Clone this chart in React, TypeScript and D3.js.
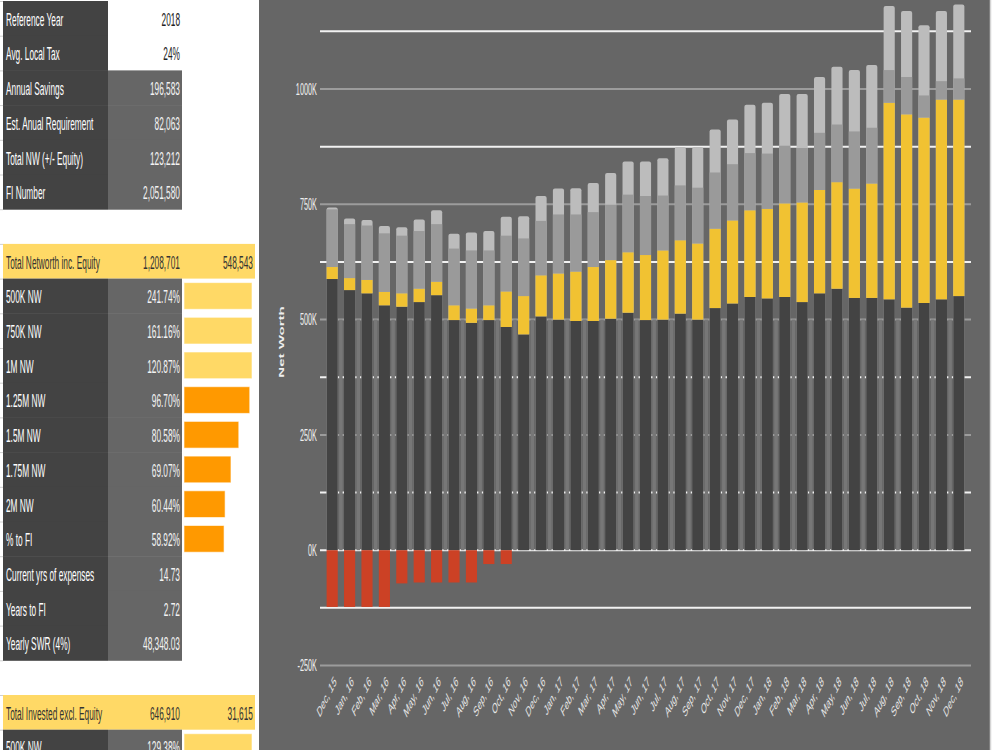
import React, { useEffect, useRef } from "react";
import * as d3 from "d3";

// ---- chart data (values in thousands) ----
const months = [
  "Dec, 15", "Jan, 16", "Feb, 16", "Mar, 16", "Apr, 16", "May, 16", "Jun, 16",
  "Jul, 16", "Aug, 16", "Sep, 16", "Oct, 16", "Nov, 16", "Dec, 16", "Jan, 17",
  "Feb, 17", "Mar, 17", "Apr, 17", "May, 17", "Jun, 17", "Jul, 17", "Aug, 17",
  "Sep, 17", "Oct, 17", "Nov, 17", "Dec, 17", "Jan, 18", "Feb, 18", "Mar, 18",
  "Apr, 18", "May, 18", "Jun, 18", "Jul, 18", "Aug, 18", "Sep, 18", "Oct, 18",
  "Nov, 18", "Dec, 18",
];
const baseValues = [
  588, 564, 557, 531, 528, 538, 553, 499, 493, 499, 484, 468, 507, 500, 497, 497,
  502, 515, 499, 500, 513, 500, 525, 535, 549, 546, 549, 538, 557, 567, 547, 547,
  544, 526, 536, 544, 551,
];
const investedValues = [
  26, 26, 29, 29, 29, 29, 29, 32, 31, 32, 77, 83, 89, 100, 107, 117, 127, 131,
  141, 150, 159, 165, 172, 180, 188, 194, 203, 216, 224, 231, 237, 248, 426, 419,
  402, 433, 426,
];
const equityValues = [
  125, 117, 118, 127, 125, 125, 125, 123, 126, 119, 121, 125, 118, 128, 124, 119,
  120, 125, 128, 119, 119, 121, 122, 122, 124, 120, 125, 118, 124, 125, 124, 121,
  71, 81, 48, 40, 46,
];
const otherValues = [
  4, 12, 12, 16, 18, 25, 30, 32, 39, 42, 41, 48, 54, 56, 57, 63, 69, 72, 75, 81,
  83, 88, 93, 97, 105, 110, 112, 117, 121, 125, 133, 136, 139, 143, 152, 152, 160,
];
const debtValues = [
  -123, -123, -123, -123, -72, -70, -70, -70, -70, -30, -30, 0, 0, 0, 0, 0, 0, 0,
  0, 0, 0, 0, 0, 0, 0, 0, 0, 0, 0, 0, 0, 0, 0, 0, 0, 0, 0,
];
const yTicks = [-250, 0, 250, 500, 750, 1000];

// ---- sheet data ----
const summaryLabels = [
  "Reference Year", "Avg. Local Tax", "Annual Savings", "Est. Anual Requirement",
  "Total NW (+/- Equity)", "FI Number",
];
const summaryValues = ["2018", "24%", "196,583", "82,063", "123,212", "2,051,580"];
const networthHeader = ["Total Networth inc. Equity", "1,208,701", "548,543"];
const milestoneLabels = [
  "500K NW", "750K NW", "1M NW", "1.25M NW", "1.5M NW", "1.75M NW", "2M NW", "% to FI",
];
const milestonePct = [241.74, 161.16, 120.87, 96.7, 80.58, 69.07, 60.44, 58.92];
const statLabels = ["Current yrs of expenses", "Years to FI", "Yearly SWR (4%)"];
const statValues = ["14.73", "2.72", "48,348.03"];
const investedHeader = ["Total Invested excl. Equity", "646,910", "31,615"];
const investedLabels = ["500K NW"];
const investedPct = [129.38];

// the whole screenshot is squeezed horizontally, so every text is too
const SX = 0.45;
const FONT = "'Liberation Sans', Arial, sans-serif";

const App = () => {
  const svgRef = useRef<SVGSVGElement | null>(null);

  useEffect(() => {
    const svg = d3.select(svgRef.current);
    svg.selectAll("*").remove();

    // ================= left sheet =================
    const sheet = svg.append("g").style("font-family", FONT);
    const rowH = 34.7;
    const rowY = (i: number) => 1 + i * rowH;
    const colA = 3, colB = 108, colC = 182, colEnd = 255;
    const pctWidth = d3.scaleLinear().domain([0, 100]).range([0, 68]).clamp(true);

    // little gridline ticks at the left edge
    sheet
      .selectAll(".tick-l")
      .data(d3.range(0, 23))
      .enter()
      .append("line")
      .attr("x1", 0)
      .attr("x2", colA)
      .attr("y1", (d) => rowY(d) + 0.5)
      .attr("y2", (d) => rowY(d) + 0.5)
      .attr("stroke", "#cfcfcf");

    const textAt = (
      g: any, x: number, y: number, txt: string, color: string, anchor = "start"
    ) => {
      g.append("text")
        .attr("transform", `translate(${x},${y + rowH / 2 + 1}) scale(${SX},1)`)
        .attr("dominant-baseline", "central")
        .attr("text-anchor", anchor)
        .style("font-size", "18.5px")
        .attr("fill", color)
        .text(txt);
    };

    // plain rows: label + value
    const drawRow = (i: number, label: string, value: string, grayValue: boolean) => {
      sheet.append("rect").attr("x", colA).attr("y", rowY(i))
        .attr("width", colB - colA).attr("height", rowH + 0.5).attr("fill", "#434343");
      if (grayValue) {
        sheet.append("rect").attr("x", colB).attr("y", rowY(i))
          .attr("width", colC - colB).attr("height", rowH + 0.5).attr("fill", "#666666");
      }
      textAt(sheet, colA + 3, rowY(i), label, "#ffffff");
      textAt(sheet, colC - 2, rowY(i), value, grayValue ? "#f3f3f3" : "#222222", "end");
    };

    summaryLabels.forEach((l, i) => drawRow(i, l, summaryValues[i], i >= 2));

    const drawHeader = (i: number, cells: string[]) => {
      sheet.append("rect").attr("x", colA).attr("y", rowY(i))
        .attr("width", colEnd - colA).attr("height", rowH).attr("fill", "#ffd966");
      textAt(sheet, colA + 3, rowY(i), cells[0], "#333333");
      textAt(sheet, colC - 2, rowY(i), cells[1], "#333333", "end");
      textAt(sheet, colEnd - 2, rowY(i), cells[2], "#333333", "end");
    };

    const drawPctRow = (i: number, label: string, pct: number) => {
      drawRow(i, label, `${pct.toFixed(2)}%`, true);
      sheet.append("rect")
        .attr("x", colC + 2)
        .attr("y", rowY(i) + 4)
        .attr("width", pctWidth(pct))
        .attr("height", rowH - 8)
        .attr("fill", pct >= 100 ? "#ffd966" : "#ff9900")
        .attr("stroke", "#ffffff")
        .attr("stroke-opacity", 0.6);
    };

    drawHeader(7, networthHeader);
    milestoneLabels.forEach((l, i) => drawPctRow(8 + i, l, milestonePct[i]));
    statLabels.forEach((l, i) => drawRow(16 + i, l, statValues[i], true));
    drawHeader(20, investedHeader);
    investedLabels.forEach((l, i) => drawPctRow(21 + i, l, investedPct[i]));

    // ================= chart =================
    const chart = svg.append("g").style("font-family", FONT);
    const left = 259, right = 990;
    chart.append("rect").attr("x", left).attr("y", 0)
      .attr("width", right - left).attr("height", 750).attr("fill", "#666666");
    chart.append("line").attr("x1", right + 0.5).attr("x2", right + 0.5)
      .attr("y1", 0).attr("y2", 750).attr("stroke", "#d4d4d4").attr("stroke-width", 1.5);

    const xScale = d3.scaleBand().domain(months).range([320, 971])
      .paddingInner(0.36).paddingOuter(0.38);
    const yScale = d3.scaleLinear().domain([-250, 1000]).range([665.5, 89]);
    const bw = xScale.bandwidth();
    const step = xScale.step();

    // horizontal gridlines (major = labelled, minor = white)
    const gridVals = d3.range(-250, 1126, 125);
    chart.selectAll(".grid").data(gridVals).enter().append("line")
      .attr("x1", 320).attr("x2", 971)
      .attr("y1", (d) => yScale(d)).attr("y2", (d) => yScale(d))
      .attr("stroke", (d) => (d % 250 === 0 && d !== 0 ? "#9c9c9c" : "#f2f2f2"))
      .attr("stroke-width", 2);

    // light stripes between the bars up to 500K
    chart.selectAll(".stripe").data(months.slice(0, -1)).enter().append("rect")
      .attr("x", (d) => (xScale(d) as number) + bw + (step - bw) / 2 - 1.75)
      .attr("width", 3.5)
      .attr("y", yScale(500))
      .attr("height", yScale(0) - yScale(500))
      .attr("fill", "#777777");

    const rows = months.map((m, i) => ({
      month: m,
      base: baseValues[i],
      invested: investedValues[i],
      equity: equityValues[i],
      other: otherValues[i],
      debt: debtValues[i],
    }));

    // top light segment drawn full height with rounded top, rest on top of it
    chart.selectAll(".total").data(rows).enter().append("rect")
      .attr("x", (d) => xScale(d.month) as number)
      .attr("width", bw)
      .attr("y", (d) => yScale(d.base + d.invested + d.equity + d.other))
      .attr("height", (d) => yScale(0) - yScale(d.base + d.invested + d.equity + d.other))
      .attr("rx", 2)
      .attr("fill", "#bcbcbc");

    const stack = d3.stack<any>().keys(["base", "invested", "equity"])(rows);
    const colors = ["#434343", "#f1c232", "#9a9a9a"];
    stack.forEach((layer, li) => {
      chart.selectAll(`.layer${li}`).data(layer).enter().append("rect")
        .attr("x", (d: any) => xScale(d.data.month) as number)
        .attr("width", bw)
        .attr("y", (d: any) => yScale(d[1]))
        .attr("height", (d: any) => yScale(d[0]) - yScale(d[1]))
        .attr("fill", colors[li]);
    });

    chart.selectAll(".debt").data(rows.filter((d) => d.debt < 0)).enter().append("rect")
      .attr("x", (d) => xScale(d.month) as number)
      .attr("width", bw)
      .attr("y", yScale(0))
      .attr("height", (d) => yScale(d.debt) - yScale(0))
      .attr("fill", "#cc4125");

    // y tick labels
    chart.selectAll(".ylab").data(yTicks).enter().append("text")
      .attr("transform", (d) => `translate(317,${yScale(d)}) scale(0.43,1)`)
      .attr("text-anchor", "end")
      .attr("dominant-baseline", "central")
      .style("font-size", "17px")
      .attr("fill", "#eeeeee")
      .text((d) => `${d}K`);

    // y axis title
    chart.append("text")
      .attr("transform", `translate(283.5,342) scale(0.49,1) rotate(-90)`)
      .attr("text-anchor", "middle")
      .style("font-size", "15px")
      .style("font-weight", "bold")
      .attr("fill", "#eeeeee")
      .text("Net Worth");

    // x labels
    chart.selectAll(".xlab").data(months).enter().append("text")
      .attr("transform", (d) =>
        `translate(${(xScale(d) as number) + bw / 2 + 3},679) scale(0.49,1) rotate(-45)`)
      .attr("text-anchor", "end")
      .attr("dy", "0.35em")
      .style("font-size", "14.5px")
      .attr("fill", "#e6e6e6")
      .text((d) => d);

    return () => {
      svg.selectAll("*").remove();
    };
  }, []);

  return (
    <svg
      ref={svgRef}
      width={1000}
      height={750}
      style={{ position: "absolute", left: 0, top: 0, background: "#ffffff" }}
    ></svg>
  );
};

export default App;
